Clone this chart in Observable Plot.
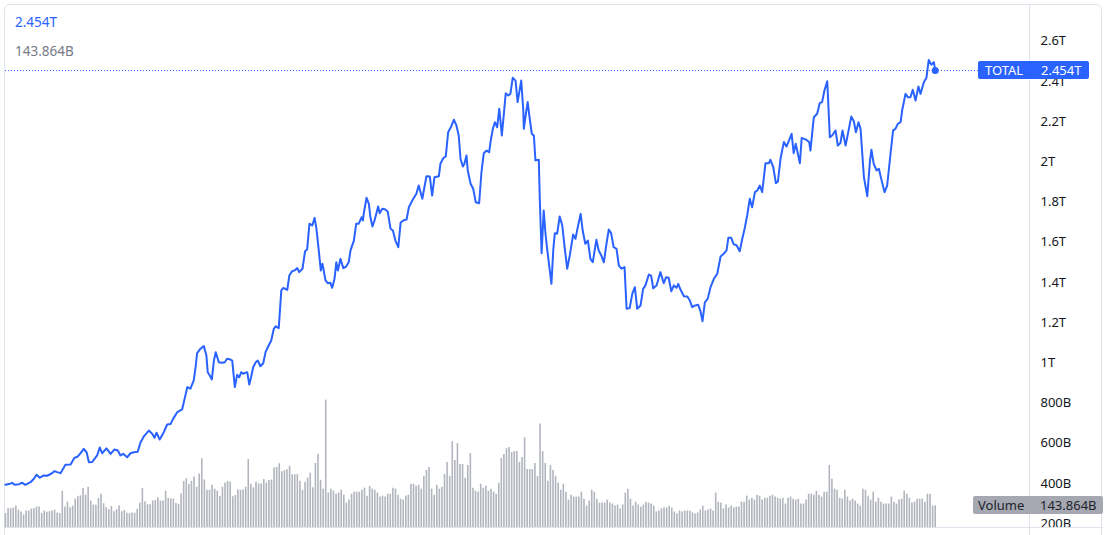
<!DOCTYPE html>
<html>
<head>
<meta charset="utf-8">
<script src="https://cdn.jsdelivr.net/npm/d3@7"></script>
<script src="https://cdn.jsdelivr.net/npm/@observablehq/plot@0.6"></script>
<style>
  html, body { margin: 0; padding: 0; background: #ffffff; }
  #wrap { position: relative; width: 1107px; height: 535px; overflow: hidden; font-family: "Noto Sans", Roboto, sans-serif; }
  #wrap svg { position: absolute; left: 0; top: 0; }
  .frame { position: absolute; left: 4px; top: 4px; width: 1098px; height: 580px; border: 1px solid #e0e3eb; border-radius: 6px; box-sizing: border-box; }
  .hline { position: absolute; left: 5px; width: 1098px; height: 1px; background: #e0e3eb; }
  .vline { position: absolute; top: 5px; width: 1px; height: 540px; background: #e0e3eb; }
  .legend { position: absolute; left: 15px; font-size: 13.5px; line-height: 16px; }
  .tag { position: absolute; height: 18px; border-radius: 2px; font-size: 13px; line-height: 18px; }
  .tag span { position: absolute; top: 0; }
</style>
</head>
<body>
<div id="wrap"></div>
<script>
// ---- data ----
const seriesName = "TOTAL";
const volumeName = "Volume";
const lastValue = 2.454;          // T
const lastVolume = 143.864;       // B
const yTicks = [0.2, 0.4, 0.6, 0.8, 1, 1.2, 1.4, 1.6, 1.8, 2, 2.2, 2.4, 2.6];

// line vertices: day index and market cap (trillions)
const lineDay = [0,1.7,2.6,3.5,5.2,6.5,7.7,9.7,11.0,12.0,13.3,14.6,16.1,17.7,19.0,20.0,21.3,23.2,25.2,26.7,28.0,29.0,30.3,31.4,32.3,33.6,35.5,36.5,37.4,39.1,40.7,42.2,43.5,44.5,45.6,47.1,48.4,49.7,51.2,52.3,53.8,55.5,56.8,57.7,58.5,59.7,61.3,62.6,63.9,64.9,66.5,68.4,70.4,71.6,72.9,73.6,74.2,75.5,
76.8,77.8,78.3,79.1,79.9,80.7,81.4,82.6,83.9,84.9,85.8,87.1,87.8,88.8,89.7,90.5,91.3,92.0,92.7,93.6,94.4,95.1,95.9,96.9,97.7,98.7,99.8,100.7,101.7,102.9,103.9,104.7,105.8,106.8,107.6,109.1,109.9,111.0,111.9,113.0,113.7,115.0,116.0,116.8,117.7,118.8,119.7,120.4,121.3,122.1,122.7,123.1,123.9,124.8,125.8,126.5,127.4,128.1,128.7,129.7,130.8,131.9,132.9,133.6,134.9,135.8,136.8,137.9,138.4,138.7,139.8,140.7,141.3,142.1,142.9,144.3,144.9,145.9,146.9,148.0,149.1,
150.0,151.0,152.1,153.0,154.0,155.3,156.2,157.5,159.1,160.0,161.4,163.0,164.3,165.2,166.1,167.8,168.4,169.5,170.5,171.4,172.6,173.6,174.6,175.5,176.2,177.1,177.7,178.5,179.0,180.1,181.1,182.1,183.4,184.3,185.2,186.3,187.3,187.8,188.7,189.5,190.4,191.2,192.2,193.0,193.7,194.7,195.5,196.4,197.5,198.3,199.7,200.5,200.7,201.5,202.2,203.0,203.8,204.6,205.2,206.5,206.9,207.6,208.4,209.1,209.8,210.6,211.4,212.1,212.7,213.6,214.6,215.6,216.5,217.5,218.5,219.8,220.7,
221.6,222.7,223.5,224.5,225.5,226.5,227.4,228.8,229.7,230.7,231.7,232.7,233.6,234.5,235.5,236.6,237.5,238.5,239.7,240.5,241.7,242.7,243.7,244.6,245.9,246.9,247.8,249.1,250.0,250.8,252.1,253.6,254.9,255.8,256.8,257.8,258.8,259.8,260.5,261.4,262.7,264.0,265.0,265.9,266.8,268.2,269.1,269.9,270.8,271.9,273.0,274.3,275.6,276.9,278.1,279.2,279.9,281.0,282.0,283.1,284.3,285.3,286.2,287.2,288.2,289.1,290.2,291.1,292.1,293.0,
294.3,295.6,296.2,297.3,298.3,299.1,300.1,301.4,302.4,303.5,304.4,305.2,306.0,307.6,308.3,310.2,311.2,311.7,313.0,314.3,315.3,316.2,317.1,318.2,319.2,320.1,321.4,322.3,323.3,324.1,325.3,326.2,327.5,328.5,329.3,330.3,331.1,332.4,333.7,334.7,335.3,336.2,337.3,338.2,339.1,340.4,341.4,342.7,343.7,344.6,345.5,346.6,347.2,348.5,349.5,350.4,351.3,352.4,353.5,354.3,355.6,356.6,357.5,358.5,359.5,360];

const lineValue = [0.393,0.398,0.403,0.393,0.396,0.403,0.393,0.406,0.423,0.443,0.428,0.439,0.438,0.448,0.461,0.456,0.451,0.493,0.494,0.527,0.534,0.549,0.572,0.555,0.505,0.507,0.539,0.579,0.550,0.574,0.547,0.569,0.564,0.539,0.547,0.530,0.550,0.555,0.557,0.605,0.638,0.663,0.647,0.627,0.652,0.618,0.655,0.693,0.695,0.721,0.754,0.768,0.879,0.871,0.912,0.978,1.048,1.070,
1.083,1.036,0.953,0.937,0.917,1.011,1.053,1.003,1.000,1.003,1.020,1.016,1.011,0.879,0.940,0.928,0.953,0.945,0.950,0.953,0.892,0.928,0.978,1.003,1.011,0.983,0.998,1.053,1.081,1.111,1.169,1.182,1.172,1.360,1.373,1.363,1.434,1.456,1.459,1.471,1.451,1.468,1.555,1.564,1.692,1.683,1.721,1.667,1.559,1.459,1.493,1.468,1.410,1.396,1.398,1.373,1.418,1.500,1.459,1.517,1.471,1.479,1.500,1.559,1.608,1.692,1.692,1.724,1.708,1.741,1.821,1.791,1.724,1.678,1.708,1.778,1.744,1.766,1.764,1.753,1.667,
1.658,1.608,1.575,1.697,1.708,1.713,1.774,1.807,1.841,1.882,1.816,1.928,1.927,1.832,1.923,1.928,1.990,2.018,2.028,2.147,2.176,2.209,2.181,2.131,2.015,1.977,1.990,2.031,1.957,1.891,1.866,1.799,1.794,1.948,2.043,2.056,2.048,2.098,2.164,2.197,2.172,2.264,2.131,2.242,2.341,2.330,2.338,2.418,2.404,2.297,2.404,2.255,2.164,2.239,2.297,2.214,2.139,2.131,2.007,2.010,1.807,1.545,1.758,1.642,1.559,1.476,1.393,1.559,1.645,1.642,1.728,1.683,1.575,1.468,1.534,1.638,1.617,
1.675,1.741,1.658,1.592,1.608,1.517,1.500,1.612,1.559,1.534,1.500,1.592,1.663,1.645,1.575,1.567,1.484,1.468,1.476,1.269,1.272,1.343,1.376,1.269,1.285,1.368,1.385,1.439,1.434,1.371,1.385,1.451,1.396,1.426,1.423,1.356,1.385,1.373,1.393,1.363,1.331,1.330,1.310,1.277,1.284,1.289,1.257,1.207,1.301,1.318,1.376,1.418,1.443,1.529,1.542,1.559,1.622,1.622,1.589,1.585,1.555,1.617,1.667,1.733,1.816,1.774,1.849,1.857,1.882,1.849,
1.993,1.993,2.010,1.973,1.894,1.902,2.015,2.098,2.076,2.109,2.139,2.043,2.090,1.993,2.119,2.109,2.098,2.056,2.222,2.239,2.292,2.297,2.355,2.401,2.122,2.131,2.156,2.081,2.093,2.156,2.081,2.139,2.225,2.202,2.147,2.197,2.164,1.923,1.829,1.998,2.060,1.990,1.957,1.965,1.915,1.849,1.882,2.040,2.156,2.164,2.189,2.197,2.255,2.338,2.321,2.321,2.358,2.305,2.375,2.338,2.396,2.418,2.507,2.483,2.496,2.454];

// daily volume (billions), day 0..360
const volume = [94,125,125,129,141,116,104,85,110,110,123,125,135,135,94,110,102,106,110,116,98,94,235,135,166,131,141,185,200,206,252,210,260,173,148,146,189,216,156,131,119,139,106,119,141,106,114,96,94,98,96,121,160,252,168,150,150,173,177,193,173,173,235,191,187,185,158,152,218,297,314,277,297,324,260,343,439,306,241,241,272,248,235,202,260,287,297,291,200,208,243,239,243,260,435,277,256,291,281,281,308,287,302,306,381,385,408,358,364,370,393,339,339,339,297,241,291,318,349,256,410,468,
304,248,809,223,248,235,216,223,241,210,160,179,216,229,229,229,241,254,204,266,248,241,223,198,204,198,216,216,254,248,210,185,179,204,210,279,279,266,272,248,329,366,385,248,210,272,248,260,341,416,329,547,428,535,404,404,316,397,472,254,235,229,279,254,266,235,248,229,216,285,441,466,503,510,478,485,485,416,447,572,372,372,372,410,329,659,485,410,297,397,366,329,285,241,279,229,179,210,198,198,198,229,185,141,173,241,229,185,160,160,160,179,160,154,141,148,123,148,223,248,
185,141,166,148,135,148,166,160,154,141,104,110,123,129,129,141,129,104,92,110,104,110,110,110,98,92,98,116,141,110,116,123,110,223,166,160,123,148,129,141,129,135,135,166,166,204,179,191,179,210,204,179,191,191,204,210,198,191,185,191,154,191,198,185,179,185,154,154,179,216,216,210,235,210,198,229,229,397,310,248,241,191,185,241,198,173,185,173,154,141,248,241,204,179,229,166,191,166,154,154,154,198,166,154,179,185,235,216,191,160,166,185,185,185,166,216,216,141,143.864];

// ---- build ----
const n = Math.min(lineDay.length, lineValue.length);
const lineRows = d3.range(n).map(i => ({t: lineDay[i], v: lineValue[i]}));
const volRows = volume.map((v, i) => ({t: i, v}));
const lastDay = volume.length - 1;

const W = 1107, H = 535;
const blue = "#2962ff";
const fontFamily = '"Noto Sans", Roboto, sans-serif';
const xScale = {domain: [0, lastDay], range: [5, 934.7]};
const fmt = v => v < 1 ? `${Math.round(v * 1000)}B` : `${+v.toFixed(1)}T`;

const volChart = Plot.plot({
  width: W, height: H,
  marginLeft: 5, marginRight: 77, marginTop: 5, marginBottom: 7,
  style: {background: "transparent"},
  x: {...xScale, axis: null},
  y: {domain: [0, 1000], range: [528, 369.3], axis: null},
  marks: [
    Plot.ruleX(volRows, {x: "t", y1: 0, y2: "v", stroke: "#b2b5be", strokeWidth: 1.6})
  ]
});

const priceChart = Plot.plot({
  width: W, height: H,
  marginLeft: 5, marginRight: 77, marginTop: 5, marginBottom: 7,
  style: {background: "transparent", fontFamily, fontSize: "13px", color: "#131722"},
  x: {...xScale, axis: null},
  y: {domain: [0.1756, 2.7776], axis: null},
  marks: [
    Plot.axisY(yTicks, {anchor: "right", tickSize: 0, tickPadding: 10, tickFormat: fmt, label: null, fill: "#131722"}),
    Plot.ruleY([lastValue], {stroke: blue, strokeWidth: 1, strokeDasharray: "1,2"}),
    Plot.line(lineRows, {x: "t", y: "v", stroke: blue, strokeWidth: 2, curve: "linear"}),
    Plot.dot([{t: lastDay, v: lastValue}], {x: "t", y: "v", r: 3.5, fill: blue})
  ]
});

const wrap = document.getElementById("wrap");
const add = (cls, style, html) => {
  const d = document.createElement("div");
  d.className = cls;
  Object.assign(d.style, style);
  if (html != null) d.innerHTML = html;
  wrap.appendChild(d);
  return d;
};

add("frame", {});
wrap.appendChild(volChart);
wrap.appendChild(priceChart);
add("hline", {top: "527px"});
add("vline", {left: "1029px"});

const yP = priceChart.scale("y").apply(lastValue);
const yV = volChart.scale("y").apply(lastVolume);

add("legend", {top: "14px", color: blue}, `${lastValue}T`);
add("legend", {top: "43px", color: "#787b86"}, `${lastVolume}B`);

add("tag", {left: "978px", width: "111px", top: (yP - 9) + "px", background: blue, color: "#ffffff"},
    `<span style="left:7px">${seriesName}</span><span style="left:63px">${lastValue}T</span>`);
add("tag", {left: "973px", width: "130px", top: (yV - 9) + "px", background: "#a5a8b0", color: "#1e222d"},
    `<span style="left:5px">${volumeName}</span><span style="left:67px">${lastVolume}B</span>`);
</script>
</body>
</html>
